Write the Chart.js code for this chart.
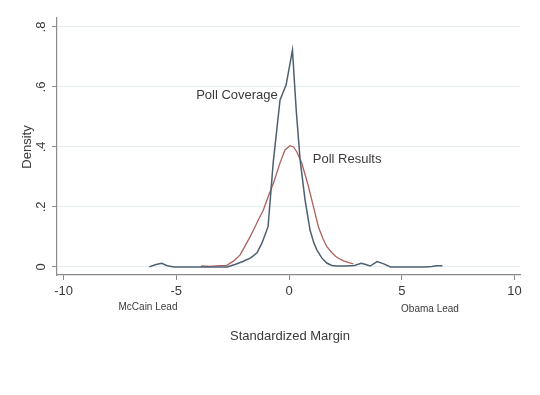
<!DOCTYPE html>
<html>
<head>
<meta charset="utf-8">
<script src="https://cdn.jsdelivr.net/npm/chart.js@4/dist/chart.umd.min.js"></script>
<style>
  html, body { margin: 0; padding: 0; background: #fff; }
  #wrap { width: 540px; height: 395px; }
</style>
</head>
<body>
<div id="wrap"><canvas id="myChart" width="540" height="395"></canvas></div>
<script>
// data
var coverageX = [-6.2, -5.9, -5.65, -5.4, -5.1, -4.5, -3.5, -2.75, -2.4, -2.05, -1.7, -1.42, -1.2, -1.05, -0.93, -0.7, -0.4, -0.13, 0.15, 0.32, 0.49, 0.71, 0.93, 1.1, 1.23, 1.45, 1.67, 1.9, 2.1, 2.5, 2.9, 3.2, 3.4, 3.6, 3.9, 4.2, 4.5, 5, 5.5, 6.0, 6.33, 6.55, 6.8];
var coverageY = [0.0, 0.008, 0.012, 0.004, 0.0, 0.0, 0.0, 0.0, 0.008, 0.018, 0.03, 0.047, 0.08, 0.11, 0.135, 0.35, 0.557, 0.607, 0.723, 0.52, 0.357, 0.223, 0.123, 0.08, 0.057, 0.03, 0.013, 0.005, 0.003, 0.003, 0.005, 0.012, 0.008, 0.003, 0.018, 0.01, 0.0, 0.0, 0.0, 0.0, 0.001, 0.004, 0.004];

var resultsX = [-3.9, -3.5, -3.1, -2.76, -2.45, -2.17, -1.95, -1.73, -1.55, -1.36, -1.14, -0.9, -0.69, -0.4, -0.18, 0.04, 0.2, 0.34, 0.56, 0.86, 1.08, 1.3, 1.5, 1.67, 1.89, 2.11, 2.41, 2.65, 2.85];
var resultsY = [0.003, 0.002, 0.004, 0.005, 0.02, 0.04, 0.07, 0.1, 0.127, 0.157, 0.19, 0.24, 0.28, 0.347, 0.39, 0.404, 0.4, 0.384, 0.347, 0.268, 0.201, 0.134, 0.095, 0.068, 0.048, 0.032, 0.02, 0.014, 0.01];

var xTicks = [-10, -5, 0, 5, 10];
var yTicks = [0, 0.2, 0.4, 0.6, 0.8];
var yTickLabels = ['0', '.2', '.4', '.6', '.8'];

function toPoints(xs, ys) {
  return xs.map(function (x, i) { return { x: x, y: ys[i] }; });
}

var FONT = '"Liberation Sans", Arial, sans-serif';
var TEXT = '#3a3a3a';

// text in the chart: rotated y labels, titles, notes
var textPlugin = {
  id: 'textPlugin',
  afterDraw: function (chart) {
    var c = chart.ctx;
    var xs = chart.scales.x, ys = chart.scales.y;
    c.save();
    c.fillStyle = TEXT;
    c.textAlign = 'center';
    c.textBaseline = 'middle';

    // y tick labels, rotated
    c.font = '13px ' + FONT;
    yTicks.forEach(function (v, i) {
      c.save();
      c.translate(41, ys.getPixelForValue(v));
      c.rotate(-Math.PI / 2);
      c.fillText(yTickLabels[i], 0, 0);
      c.restore();
    });

    // y title
    c.save();
    c.translate(27, 147);
    c.rotate(-Math.PI / 2);
    c.font = '13px ' + FONT;
    c.fillText('Density', 0, 0);
    c.restore();

    // x title
    c.font = '13px ' + FONT;
    c.fillText('Standardized Margin', 290, 336);

    // notes under the axis
    c.font = '10px ' + FONT;
    c.fillText('McCain Lead', 148, 307);
    c.fillText('Obama Lead', 430, 309);

    // curve labels
    c.font = '13px ' + FONT;
    c.textAlign = 'right';
    c.fillText('Poll Coverage', xs.getPixelForValue(-0.5), ys.getPixelForValue(0.573));
    c.textAlign = 'left';
    c.fillText('Poll Results', xs.getPixelForValue(1.05), ys.getPixelForValue(0.357));
    c.restore();
  }
};

var ctx = document.getElementById('myChart').getContext('2d');
var chart = new Chart(ctx, {
  type: 'line',
  data: {
    datasets: [{
      label: 'Poll Coverage',
      data: toPoints(coverageX, coverageY),
      borderColor: '#4d6072',
      borderWidth: 1.5,
      pointRadius: 0,
      tension: 0,
      fill: false
    }, {
      label: 'Poll Results',
      data: toPoints(resultsX, resultsY),
      borderColor: '#ab625e',
      borderWidth: 1.3,
      pointRadius: 0,
      tension: 0,
      fill: false
    }]
  },
  options: {
    responsive: false,
    animation: false,
    layout: { padding: { left: 0, right: 20, top: 18, bottom: 0 } },
    plugins: {
      legend: { display: false },
      tooltip: { enabled: false }
    },
    scales: {
      x: {
        type: 'linear',
        min: -10.29,
        max: 10.24,
        afterBuildTicks: function (axis) {
          axis.ticks = xTicks.map(function (v) { return { value: v }; });
        },
        afterFit: function (axis) { axis.height = 120; },
        grid: {
          drawOnChartArea: false,
          drawTicks: true,
          tickLength: 5,
          tickColor: '#8a8a8a'
        },
        border: { color: '#8a8a8a', width: 1.2 },
        ticks: {
          color: TEXT,
          font: { family: FONT, size: 13 },
          padding: 4,
          maxRotation: 0,
          callback: function (v) { return String(v); }
        }
      },
      y: {
        type: 'linear',
        min: -0.027,
        max: 0.83,
        afterBuildTicks: function (axis) {
          axis.ticks = yTicks.map(function (v) { return { value: v }; });
        },
        afterFit: function (axis) { axis.width = 57; },
        grid: {
          color: '#e6edf0',
          lineWidth: 1,
          tickLength: 5,
          tickColor: '#8a8a8a'
        },
        border: { color: '#8a8a8a', width: 1.2 },
        ticks: { display: false }
      }
    }
  },
  plugins: [textPlugin]
});
</script>
</body>
</html>
